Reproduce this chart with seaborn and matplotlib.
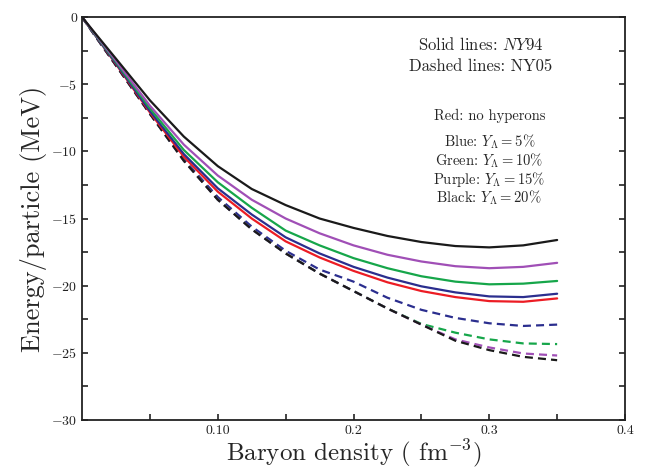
import matplotlib
matplotlib.use("Agg")
import matplotlib.pyplot as plt
import numpy as np
import pandas as pd
import seaborn as sns

# baryon density grid (fm^-3)
density = [0, 0.01, 0.025, 0.05, 0.075, 0.1, 0.125, 0.15, 0.175, 0.2,
           0.225, 0.25, 0.275, 0.3, 0.325, 0.35]

# solid lines: NY94
ny94_red = [0, -1.4, -3.5, -7.1, -10.4, -13.0, -15.0, -16.7, -17.9, -18.9,
            -19.75, -20.4, -20.85, -21.15, -21.2, -20.95]
ny94_blue = [0, -1.4, -3.45, -7.0, -10.2, -12.75, -14.7, -16.4, -17.6, -18.6,
             -19.4, -20.05, -20.5, -20.8, -20.85, -20.6]
ny94_green = [0, -1.35, -3.35, -6.8, -9.9, -12.3, -14.2, -15.9, -17.0, -17.95,
              -18.7, -19.3, -19.7, -19.9, -19.85, -19.65]
ny94_purple = [0, -1.3, -3.25, -6.6, -9.5, -11.8, -13.6, -15.0, -16.1, -17.0,
               -17.7, -18.2, -18.55, -18.7, -18.6, -18.3]
ny94_black = [0, -1.25, -3.1, -6.2, -8.9, -11.1, -12.8, -14.0, -15.0, -15.7,
              -16.3, -16.75, -17.05, -17.15, -17.0, -16.6]

# dashed lines: NY05
ny05_blue = [0, -1.45, -3.6, -7.2, -10.6, -13.4, -15.6, -17.4, -18.8, -19.7,
             -20.9, -21.8, -22.4, -22.8, -23.0, -22.9]
ny05_green = [0, -1.45, -3.6, -7.2, -10.7, -13.6, -15.8, -17.6, -19.1, -20.4,
              -21.7, -22.85, -23.5, -24.0, -24.3, -24.35]
ny05_purple = [0, -1.45, -3.6, -7.2, -10.7, -13.6, -15.8, -17.6, -19.1, -20.4,
               -21.7, -22.9, -24.0, -24.6, -25.05, -25.2]
ny05_black = [0, -1.45, -3.6, -7.2, -10.7, -13.6, -15.8, -17.6, -19.1, -20.4,
              -21.7, -22.9, -24.1, -24.8, -25.3, -25.55]

x_ticks = [0.1, 0.2, 0.3, 0.4]
x_ticklabels = ["0.10", "0.2", "0.3", "0.4"]
y_ticks = [0, -5, -10, -15, -20, -25, -30]

colors = {"red": "#ec1c24", "blue": "#2b2e8e", "green": "#16a64a",
          "purple": "#a04fb6", "black": "#1a1a1a"}

sns.set_style("ticks")
plt.rcParams["font.family"] = ["cmr10", "DejaVu Serif"]
plt.rcParams["mathtext.fontset"] = "cm"
plt.rcParams["axes.unicode_minus"] = False

fig, ax = plt.subplots(figsize=(6.46, 4.74), dpi=100)
fig.subplots_adjust(left=0.127, right=0.9675, top=0.964, bottom=0.114)

solid = [("red", ny94_red), ("blue", ny94_blue), ("green", ny94_green),
         ("purple", ny94_purple), ("black", ny94_black)]
dashed = [("blue", ny05_blue), ("green", ny05_green),
          ("purple", ny05_purple), ("black", ny05_black)]

for name, vals in dashed:
    sns.lineplot(x=density, y=vals, color=colors[name], lw=1.6,
                 linestyle=(0, (3.6, 2.3)), ax=ax)
for name, vals in solid:
    sns.lineplot(x=density, y=vals, color=colors[name], lw=1.6, ax=ax)

ax.set_xlim(0, 0.4)
ax.set_ylim(-30, 0)
ax.set_xticks(x_ticks)
ax.set_xticklabels(x_ticklabels)
ax.set_xticks([0.05, 0.15, 0.25, 0.35], minor=True)
ax.set_yticks(y_ticks)
ax.set_yticklabels(["0" if v == 0 else "$%d$" % v for v in y_ticks])
ax.set_yticks(np.arange(-27.5, 0, 5), minor=True)
ax.tick_params(which="both", direction="in", length=4, width=1.2,
               right=True, top=False, labelsize=10, colors="#222222")
for s in ax.spines.values():
    s.set_linewidth(1.3)
    s.set_color("#222222")

ax.set_xlabel(r"Baryon density ( fm$^{-3}$)", fontsize=18, labelpad=0)
ax.set_ylabel("Energy/particle (MeV)", fontsize=19, labelpad=3)

ax.text(0.735, 0.933, r"Solid lines: $NY94$", transform=ax.transAxes,
        ha="center", va="center", fontsize=12)
ax.text(0.735, 0.878, "Dashed lines: NY05", transform=ax.transAxes,
        ha="center", va="center", fontsize=12)
ax.text(0.75, 0.754, "Red: no hyperons", transform=ax.transAxes,
        ha="center", va="center", fontsize=10.5)
for i, (lab, pct) in enumerate([("Blue", 5), ("Green", 10),
                                ("Purple", 15), ("Black", 20)]):
    ax.text(0.75, 0.69 - i * 0.046, r"%s: $Y_\Lambda = %d\%%$" % (lab, pct),
            transform=ax.transAxes, ha="center", va="center", fontsize=10.5)

plt.savefig("out.png", dpi=100)
